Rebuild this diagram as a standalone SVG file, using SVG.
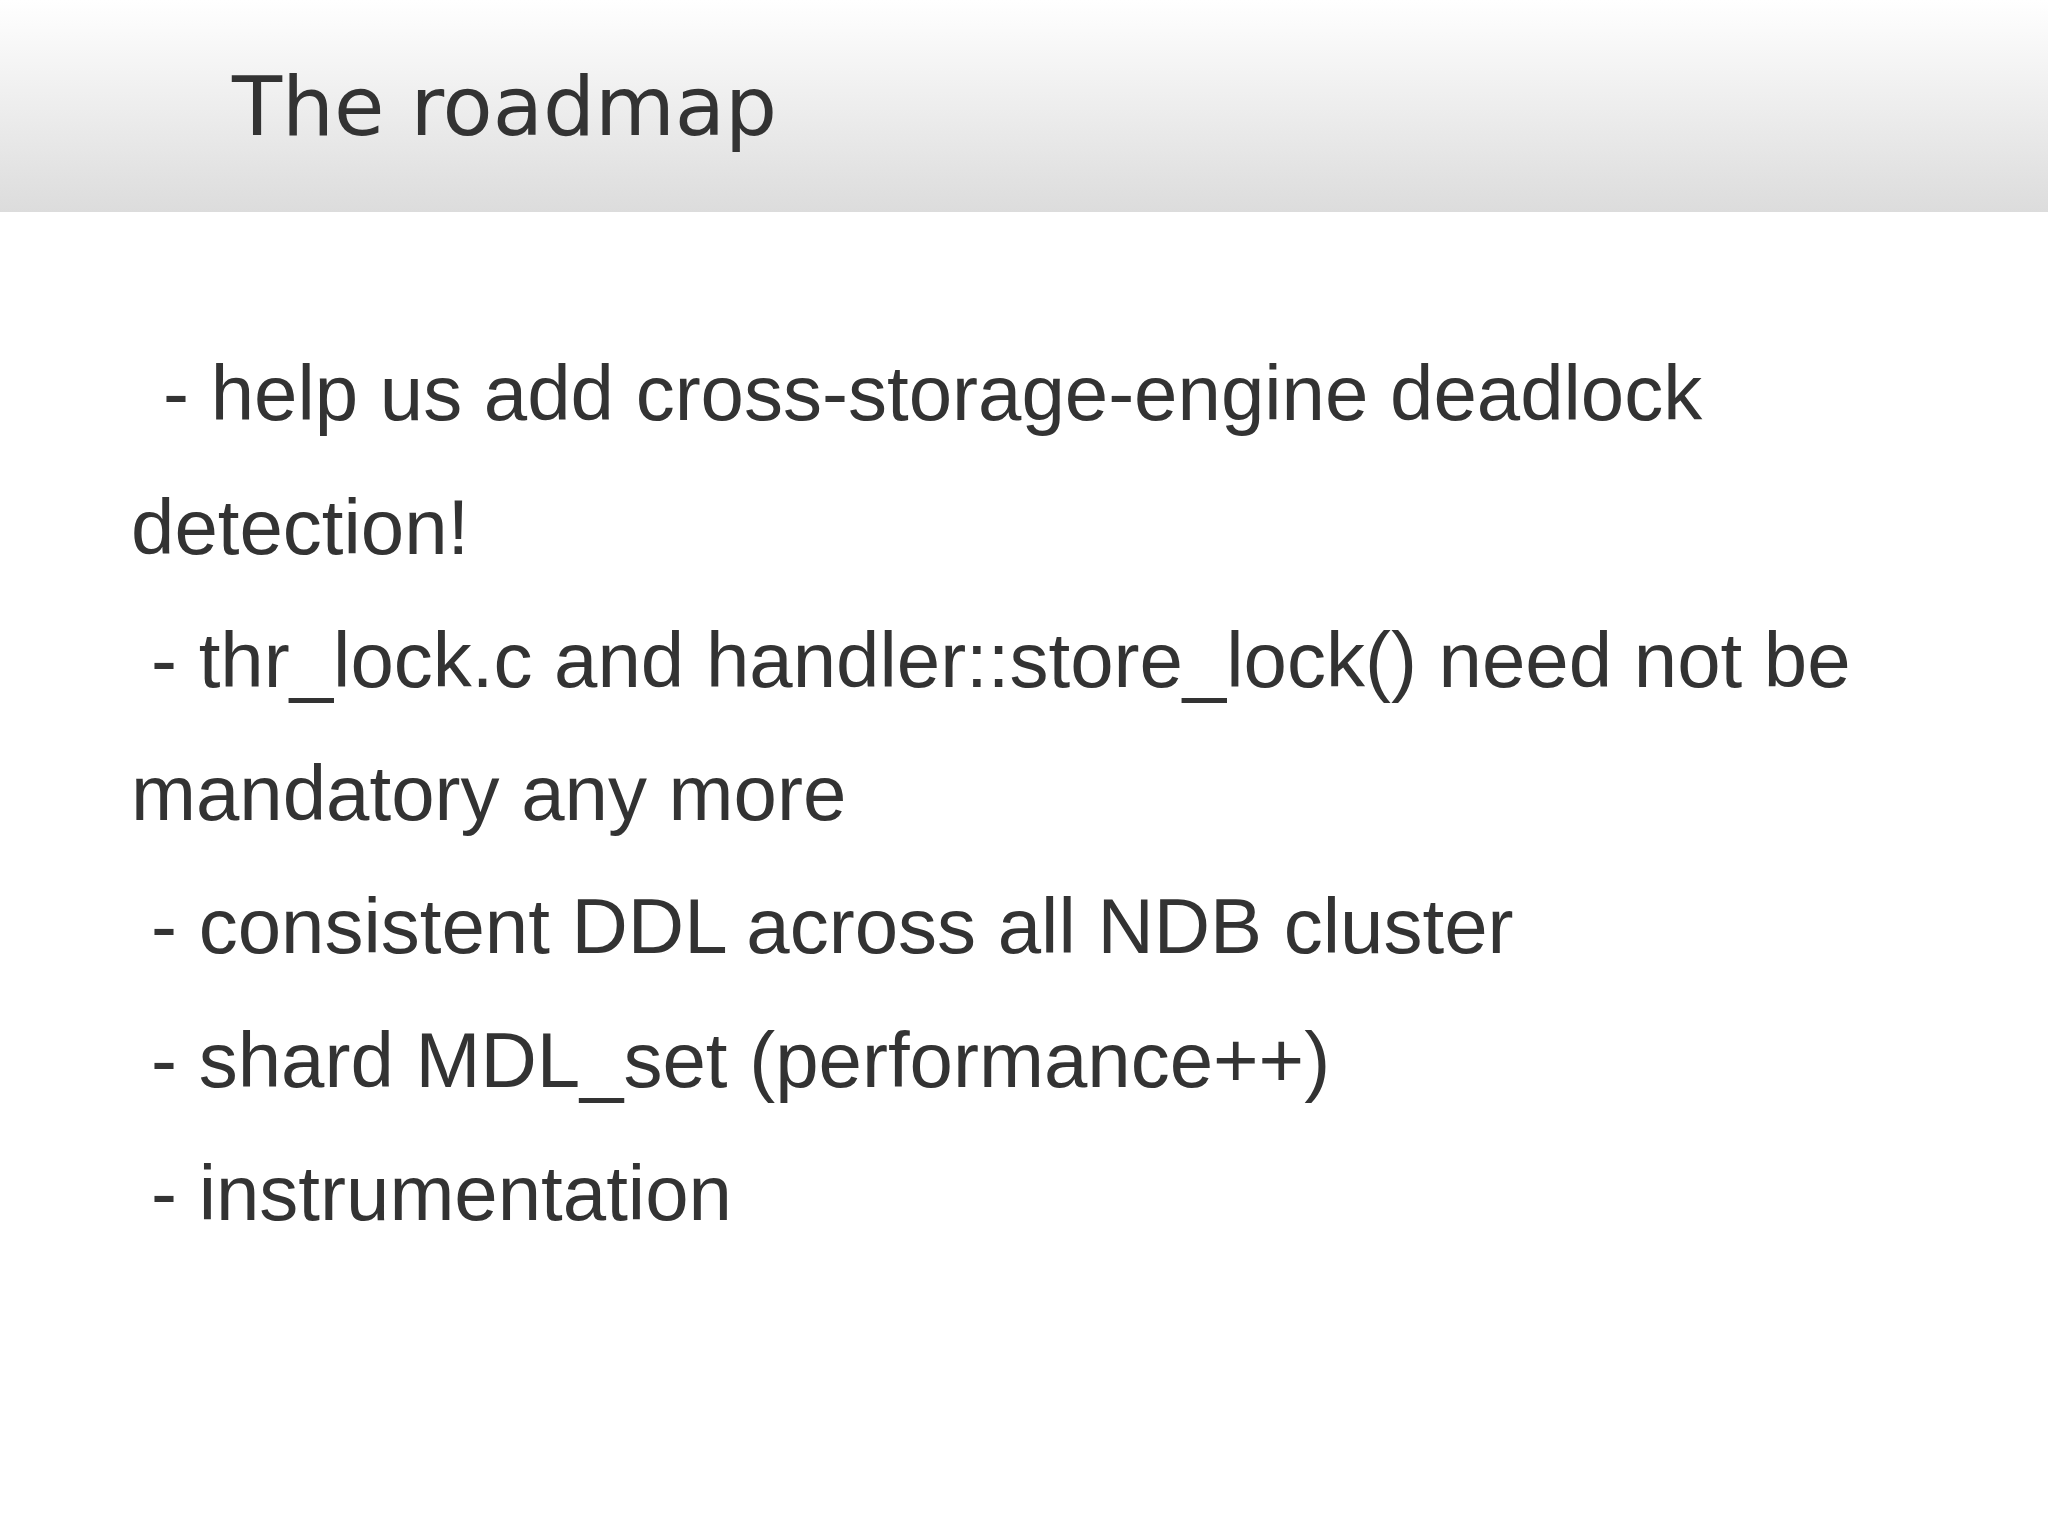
<svg xmlns="http://www.w3.org/2000/svg" width="2048" height="1536" viewBox="0 0 2048 1536">
<defs>
<linearGradient id="hdr" x1="0" y1="0" x2="0" y2="1">
<stop offset="0" stop-color="#ffffff"/>
<stop offset="1" stop-color="#dcdcdc"/>
</linearGradient>
<style>
.b{font-family:"Liberation Sans",Arial,sans-serif;font-size:78px;fill:#333333}
.t{font-family:"DejaVu Sans",Verdana,sans-serif;font-size:82px;fill:#333333}
</style>
</defs>
<rect width="2048" height="1536" fill="#ffffff"/>
<rect width="2048" height="212" fill="url(#hdr)"/>
<text class="t" x="232" y="135">The roadmap</text>
<g id="body">
<text class="b" x="163" y="420">- help us add cross-storage-engine deadlock</text>
<text class="b" x="131" y="554">detection!</text>
<text class="b" x="151" y="687">- thr_lock.c and handler::store_lock() need not be</text>
<text class="b" x="131" y="820">mandatory any more</text>
<text class="b" x="151" y="953">- consistent DDL across all NDB cluster</text>
<text class="b" x="151" y="1087">- shard MDL_set (performance++)</text>
<text class="b" x="151" y="1220">- instrumentation</text>
</g>
</svg>
